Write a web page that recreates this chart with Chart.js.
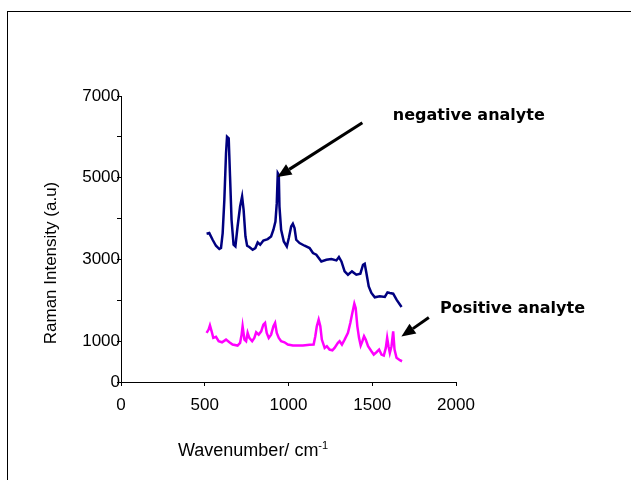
<!DOCTYPE html>
<html>
<head>
<meta charset="utf-8">
<script src="https://cdn.jsdelivr.net/npm/chart.js@4.4.0/dist/chart.umd.min.js"></script>
<style>
    body { margin: 0; background: #fff; }
    #wrap { width: 631px; height: 480px; }
</style>
</head>
<body>
<div id="wrap"><canvas id="ramanChart" width="631" height="480"></canvas></div>
<script>
// spectrum: wavenumber (cm-1) and intensity (a.u.)
const negWave = [511, 527, 547, 567, 587, 597, 607, 617, 627, 633, 643, 651, 660, 672, 683, 696, 711, 723, 732, 743,
    753, 766, 786, 802, 816, 831, 850, 876, 896, 910, 922, 930, 936, 942, 946, 956, 972, 990, 1002, 1016,
    1026, 1036, 1046, 1066, 1096, 1126, 1146, 1166, 1196, 1226, 1256, 1286, 1301, 1316, 1335, 1355, 1379, 1405, 1429, 1445,
    1455, 1465, 1479, 1495, 1515, 1545, 1575, 1591, 1605, 1625, 1645, 1675];
const negIntensity = [3628, 3645, 3481, 3335, 3254, 3278, 3645, 4458, 5599, 6005, 5966, 5028, 3970, 3359, 3318, 3806, 4295, 4539, 4214, 3562,
    3335, 3303, 3237, 3278, 3415, 3359, 3464, 3498, 3562, 3726, 3928, 4378, 5111, 5069, 4295, 3726, 3440, 3318, 3523, 3806,
    3872, 3767, 3481, 3401, 3335, 3278, 3156, 3115, 2951, 2993, 3010, 2976, 3059, 2951, 2707, 2626, 2707, 2626, 2651, 2870,
    2895, 2668, 2340, 2179, 2072, 2096, 2081, 2194, 2179, 2162, 2015, 1837];

const posWave = [511, 523, 531, 541, 551, 567, 583, 603, 627, 647, 666, 696, 711, 720, 726, 737, 747, 756, 766, 783,
    796, 807, 822, 837, 850, 860, 870, 882, 896, 910, 920, 930, 942, 956, 976, 996, 1026, 1086, 1126, 1150,
    1160, 1169, 1180, 1190, 1199, 1216, 1229, 1245, 1262, 1275, 1295, 1305, 1319, 1335, 1355, 1369, 1381, 1393, 1401, 1411,
    1421, 1431, 1441, 1451, 1461, 1475, 1495, 1509, 1525, 1541, 1555, 1569, 1581, 1589, 1597, 1605, 1615, 1625, 1633, 1645,
    1665, 1678];
const posIntensity = [1202, 1283, 1388, 1241, 1080, 1104, 997, 972, 1038, 972, 916, 892, 958, 1160, 1363, 1038, 997, 1202, 1080, 997,
    1080, 1217, 1160, 1241, 1405, 1446, 1202, 1080, 1160, 1363, 1446, 1202, 1080, 997, 972, 916, 892, 892, 909, 916,
    1119, 1363, 1527, 1363, 1038, 835, 875, 794, 777, 835, 958, 997, 916, 1038, 1202, 1446, 1690, 1918, 1813, 1363,
    1080, 892, 997, 1119, 1038, 875, 752, 672, 728, 794, 672, 647, 835, 1080, 875, 713, 875, 1241, 794, 591,
    533, 508];

const yTickLabels = [0, 1000, 3000, 5000, 7000];

// callouts, in data units
const notes = [
    { text: 'negative analyte', x: 1623, y: 6413, fromX: 1441, fromY: 6347, toX: 934, toY: 5020 },
    { text: 'Positive analyte', x: 1904, y: 1690, fromX: 1838, fromY: 1576, toX: 1674, toY: 1112 }
];

function toPoints(xs, ys) {
    return xs.map((x, i) => ({ x: x, y: ys[i] }));
}

const tickFont = { family: '"Liberation Sans", Arial, sans-serif', size: 17 };

const decor = {
    id: 'decor',
    beforeDraw(chart) {
        const ctx = chart.ctx;
        ctx.save();
        ctx.fillStyle = '#fff';
        ctx.fillRect(0, 0, chart.width, chart.height);
        ctx.strokeStyle = '#000';
        ctx.lineWidth = 1;
        ctx.strokeRect(7.5, 11.5, 1000, 1000);
        ctx.restore();
    },
    afterDraw(chart) {
        const ctx = chart.ctx;
        const xs = chart.scales.x, ys = chart.scales.y;
        ctx.save();
        ctx.fillStyle = '#000';

        // axis titles
        ctx.font = '17px "Liberation Sans", Arial, sans-serif';
        ctx.textAlign = 'center';
        ctx.textBaseline = 'alphabetic';
        ctx.save();
        ctx.translate(56, 263);
        ctx.rotate(-Math.PI / 2);
        ctx.fillText('Raman Intensity (a.u)', 0, 0);
        ctx.restore();

        ctx.font = '18px "Liberation Sans", Arial, sans-serif';
        ctx.textAlign = 'left';
        const main = 'Wavenumber/ cm';
        ctx.fillText(main, 178, 456);
        const w = ctx.measureText(main).width;
        ctx.font = '11px "Liberation Sans", Arial, sans-serif';
        ctx.fillText('-1', 178 + w, 449);

        // callouts
        ctx.strokeStyle = '#000';
        ctx.lineWidth = 3;
        notes.forEach(n => {
            ctx.font = 'bold 16px "DejaVu Sans", Verdana, sans-serif';
            ctx.textAlign = 'left';
            ctx.fillText(n.text, xs.getPixelForValue(n.x), ys.getPixelForValue(n.y));

            const x1 = xs.getPixelForValue(n.fromX), y1 = ys.getPixelForValue(n.fromY);
            const x2 = xs.getPixelForValue(n.toX), y2 = ys.getPixelForValue(n.toY);
            const a = Math.atan2(y2 - y1, x2 - x1);
            const head = 14, half = 6;
            const bx = x2 - head * Math.cos(a), by = y2 - head * Math.sin(a);
            ctx.beginPath();
            ctx.moveTo(x1, y1);
            ctx.lineTo(bx, by);
            ctx.stroke();
            ctx.beginPath();
            ctx.moveTo(x2, y2);
            ctx.lineTo(bx + half * Math.sin(a), by - half * Math.cos(a));
            ctx.lineTo(bx - half * Math.sin(a), by + half * Math.cos(a));
            ctx.closePath();
            ctx.fill();
        });
        ctx.restore();
    }
};

new Chart(document.getElementById('ramanChart'), {
    type: 'line',
    data: {
        datasets: [{
            label: 'negative analyte',
            data: toPoints(negWave, negIntensity),
            borderColor: '#000080',
            borderWidth: 2.5,
            pointRadius: 0,
            fill: false
        }, {
            label: 'Positive analyte',
            data: toPoints(posWave, posIntensity),
            borderColor: '#ff00ff',
            borderWidth: 2.5,
            pointRadius: 0,
            fill: false
        }]
    },
    options: {
        responsive: false,
        animation: false,
        layout: { padding: { left: 0, top: 96, right: 175, bottom: 0 } },
        scales: {
            x: {
                type: 'linear',
                min: 0,
                max: 2000,
                afterFit: s => { s.height = 98; },
                ticks: { stepSize: 500, color: '#000', font: tickFont, padding: 9, maxRotation: 0, callback: v => String(v) },
                grid: { drawOnChartArea: false, drawTicks: true, tickLength: 4, color: '#000' },
                border: { display: true, color: '#000', width: 1 }
            },
            y: {
                min: 0,
                max: 7000,
                afterFit: s => { s.width = 121; },
                ticks: {
                    stepSize: 1000,
                    color: '#000',
                    font: tickFont,
                    padding: -3,
                    callback: v => yTickLabels.includes(v) ? String(v) : ''
                },
                grid: { drawOnChartArea: false, drawTicks: true, tickLength: 4, color: '#000' },
                border: { display: true, color: '#000', width: 1 }
            }
        },
        plugins: {
            legend: { display: false },
            tooltip: { enabled: false }
        }
    },
    plugins: [decor]
});
</script>
</body>
</html>
